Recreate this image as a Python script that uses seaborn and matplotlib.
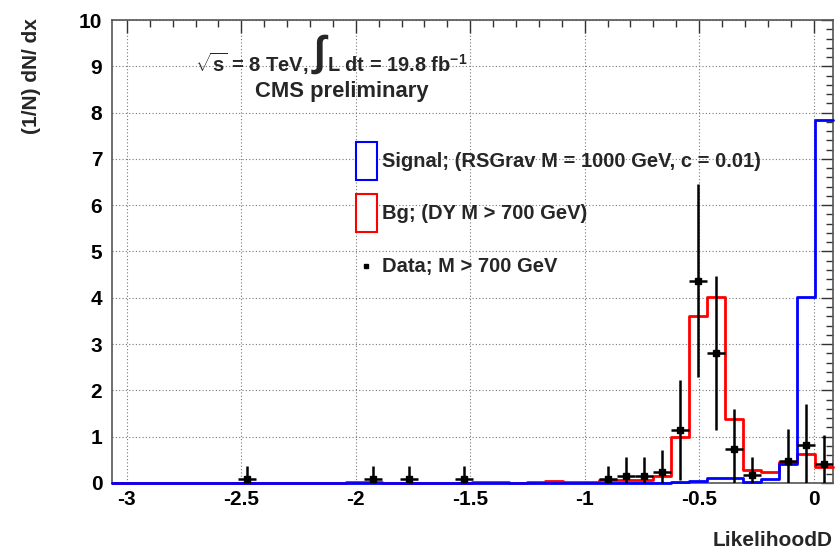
import numpy as np
import pandas as pd
import matplotlib
matplotlib.use("Agg")
import matplotlib.pyplot as plt
from matplotlib.patches import Patch
from matplotlib.lines import Line2D
from matplotlib.legend_handler import HandlerLine2D
from matplotlib.ticker import MultipleLocator
import seaborn as sns

# Histogram binning of the discriminant
x_range = (-3.065, 0.085)
n_bins = 40

# Normalised distributions, one value per bin
signal = [0, 0, 0, 0, 0, 0, 0, 0, 0, 0,
          0, 0, 0, 0, 0, 0, 0, 0, 0, 0,
          0, 0, 0, 0, 0, 0, 0, 0, 0, 0,
          0, 0.03, 0.05, 0.11, 0.11, 0.03, 0.08, 0.40, 4.02, 7.83]
background = [0, 0, 0, 0, 0, 0, 0, 0, 0, 0,
              0, 0, 0, 0.02, 0.02, 0, 0, 0, 0, 0,
              0.02, 0.02, 0, 0.02, 0.04, 0.03, 0.02, 0.06, 0.07, 0.07,
              0.16, 1.00, 3.60, 4.02, 1.39, 0.27, 0.245, 0.45, 0.63, 0.35]

# Data points (bin centres, normalised content, statistical error)
data_x = [-2.474, -1.923, -1.766, -1.529, -0.899, -0.820, -0.741, -0.663,
          -0.584, -0.505, -0.426, -0.348, -0.269, -0.111, -0.032, 0.046]
data_y = [0.087, 0.087, 0.087, 0.087, 0.087, 0.16, 0.16, 0.24,
          1.15, 4.37, 2.81, 0.73, 0.165, 0.47, 0.81, 0.40]
data_err = [0.28, 0.28, 0.28, 0.28, 0.28, 0.40, 0.40, 0.48,
            1.08, 2.09, 1.67, 0.86, 0.40, 0.70, 0.90, 0.64]

xtick_vals = [-3, -2.5, -2, -1.5, -1, -0.5, 0]
xtick_labels = ["-3", "-2.5", "-2", "-1.5", "-1", "-0.5", "0"]
ytick_vals = list(range(0, 11))
ytick_labels = [str(v) for v in ytick_vals]

legend_labels = ["Signal; (RSGrav M = 1000 GeV, c = 0.01)",
                 "Bg; (DY M > 700 GeV)",
                 "Data; M > 700 GeV"]

sns.set_style("white")
plt.rcParams["font.family"] = ["Liberation Sans", "DejaVu Sans"]
plt.rcParams["font.weight"] = "bold"
plt.rcParams["axes.unicode_minus"] = False
plt.rcParams["mathtext.fontset"] = "custom"
plt.rcParams["mathtext.rm"] = "Liberation Sans:bold"
plt.rcParams["mathtext.it"] = "Liberation Sans:bold"
plt.rcParams["mathtext.bf"] = "Liberation Sans:bold"

W, H = 835, 552
fig = plt.figure(figsize=(W / 100, H / 100), dpi=100)
ax = fig.add_axes([112 / W, 1 - 483 / H, (833 - 112) / W, (483 - 20) / H])

edges = np.linspace(x_range[0], x_range[1], n_bins + 1)
centers = 0.5 * (edges[:-1] + edges[1:])
half_width = 0.5 * (edges[1] - edges[0])
hist_df = pd.DataFrame({"x": centers, "signal": signal, "bg": background})

sns.histplot(data=hist_df, x="x", weights="bg", bins=list(edges), element="step",
             fill=False, color="#ff0000", linewidth=2.0, ax=ax, zorder=3)
sns.histplot(data=hist_df, x="x", weights="signal", bins=list(edges), element="step",
             fill=False, color="#0000ff", linewidth=2.0, ax=ax, zorder=4)
for ln in ax.lines:
    ln.set_clip_on(False)

ax.errorbar(data_x, data_y, yerr=data_err, xerr=half_width, fmt="s",
            color="black", markersize=4, elinewidth=1.8, capsize=0, zorder=5)

ax.set_xlim(*x_range)
ax.set_ylim(0, 10)
ax.set_xticks(xtick_vals)
ax.set_xticklabels(xtick_labels)
ax.set_yticks(ytick_vals)
ax.set_yticklabels(ytick_labels)
ax.xaxis.set_minor_locator(MultipleLocator(0.1))
ax.yaxis.set_minor_locator(MultipleLocator(0.2))

ax.grid(True, which="major", linestyle=(0, (1, 2)), color="#777777", linewidth=0.8)
ax.set_axisbelow(True)
for sp in ax.spines.values():
    sp.set_color("#555555")
    sp.set_linewidth(1.2)

ax.tick_params(which="both", direction="in", top=True, right=True,
               colors="#333333", labelcolor="black", width=1.0)
ax.tick_params(axis="x", which="major", length=9, labelsize=15, pad=5)
ax.tick_params(axis="x", which="minor", length=5)
ax.tick_params(axis="y", which="major", length=9, labelsize=15, pad=7)
ax.tick_params(axis="y", which="minor", length=5)
for lab in ax.get_xticklabels() + ax.get_yticklabels():
    lab.set_fontweight("bold")

ax.set_xlabel("LikelihoodD", fontsize=15, fontweight="bold", loc="right", labelpad=16)
ax.set_ylabel("(1/N) dN/ dx", fontsize=15, fontweight="bold", loc="top")
ax.yaxis.set_label_coords(-0.098, 1.005)


class CenteredMarkerHandler(HandlerLine2D):
    """Put the legend marker in the vertical middle of the tall handle box."""

    def create_artists(self, legend, orig_handle, xdescent, ydescent,
                       width, height, fontsize, trans):
        return super().create_artists(legend, orig_handle, xdescent, ydescent,
                                      width, height - ydescent, fontsize, trans)


data_handle = Line2D([], [], marker="s", color="black", markersize=3.5, linestyle="none")
handles = [Patch(facecolor="white", edgecolor="#0000ff", linewidth=1.5),
           Patch(facecolor="white", edgecolor="#ff0000", linewidth=1.5),
           data_handle]
ax.legend(handles, legend_labels, loc="upper left",
          bbox_to_anchor=(355.5 / W, 1 - 141.5 / H), bbox_transform=fig.transFigure,
          frameon=False, borderpad=0, borderaxespad=0, handlelength=1.08,
          handleheight=2.53, handletextpad=0.22, labelspacing=0.72,
          handler_map={data_handle: CenteredMarkerHandler()},
          prop={"family": "Liberation Sans", "weight": "bold", "size": 14.5})


def fig_text(px, py, s, **kw):
    fig.text(px / W, 1 - py / H, s, va="baseline", ha="left", fontweight="bold", **kw)


fig_text(195, 72, r"$\sqrt{s}$ = 8 TeV,", fontsize=14.5)
fig_text(314, 65, "\u222b", fontsize=30)
fig_text(327, 72, r"L dt = 19.8 fb$^{-1}$", fontsize=14.4)
fig_text(255, 97, "CMS preliminary", fontsize=15.8)

fig.savefig("out.png", dpi=100)
